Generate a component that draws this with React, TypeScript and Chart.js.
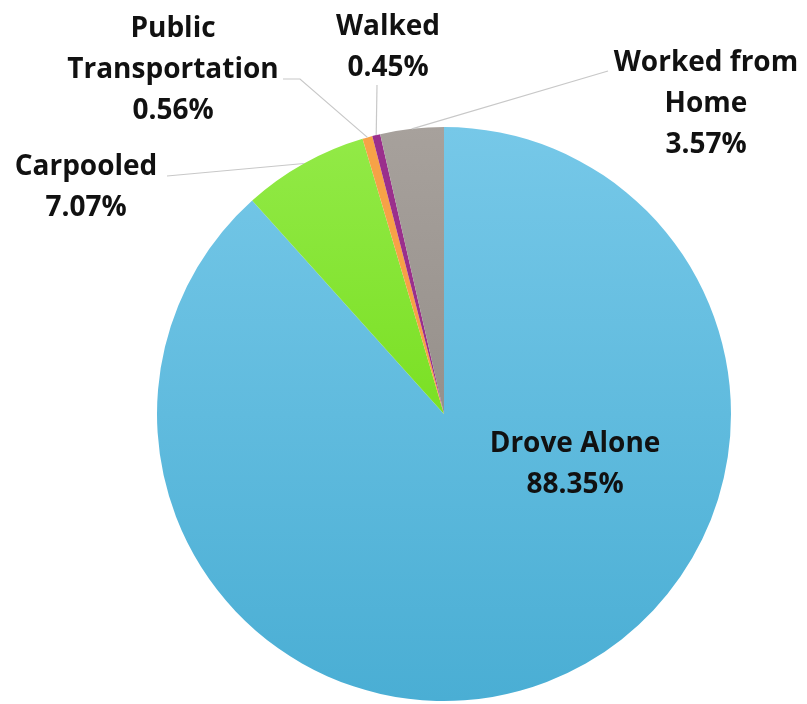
import React, { useEffect, useRef } from "react";
import { Chart, registerables } from "chart.js";

Chart.register(...registerables);

const categories: string[] = [
  "Drove Alone",
  "Carpooled",
  "Public Transportation",
  "Walked",
  "Worked from Home",
];
const shares: number[] = [88.35, 7.07, 0.56, 0.45, 3.57];
const labelLines: string[][] = [
  ["Drove Alone", "88.35%"],
  ["Carpooled", "7.07%"],
  ["Public", "Transportation", "0.56%"],
  ["Walked", "0.45%"],
  ["Worked from", "Home", "3.57%"],
];

// Label placement, relative to the pie centre (dx, dy of first baseline).
// lead: leader line start relative to the pie centre (null = inside label).
const labelLayout = [
  { dx: 131, dy: 38, lead: null as null | number[][] },
  { dx: -358, dy: -239, lead: [[-277, -238]] },
  { dx: -271, dy: -377, lead: [[-161, -335], [-144, -335]] },
  { dx: -56, dy: -379, lead: [[-67, -329]] },
  { dx: 262, dy: -343, lead: [[164, -343]] },
];

const FONT = "bold 28px 'Open Sans', sans-serif";
const LINE_H = 41;

const labelPlugin = {
  id: "pieLabels",
  afterDatasetsDraw(chart: any) {
    const ctx: CanvasRenderingContext2D = chart.ctx;
    const meta = chart.getDatasetMeta(0);
    ctx.save();
    meta.data.forEach((arc: any, i: number) => {
      const { x, y, outerRadius, startAngle, endAngle } = arc.getProps(
        ["x", "y", "outerRadius", "startAngle", "endAngle"],
        true
      );
      const lay = labelLayout[i];
      const mid = (startAngle + endAngle) / 2;
      if (lay.lead) {
        const ex = x + Math.cos(mid) * outerRadius;
        const ey = y + Math.sin(mid) * outerRadius;
        ctx.beginPath();
        ctx.strokeStyle = "#c8c8c8";
        ctx.lineWidth = 1.2;
        ctx.moveTo(x + lay.lead[0][0], y + lay.lead[0][1]);
        for (let k = 1; k < lay.lead.length; k++) {
          ctx.lineTo(x + lay.lead[k][0], y + lay.lead[k][1]);
        }
        ctx.lineTo(ex, ey);
        ctx.stroke();
      }
      ctx.font = FONT;
      ctx.fillStyle = "#111111";
      ctx.textAlign = "center";
      ctx.textBaseline = "alphabetic";
      labelLines[i].forEach((t, k) => {
        ctx.fillText(t, x + lay.dx, y + lay.dy + k * LINE_H);
      });
    });
    ctx.restore();
  },
};

function vGrad(chart: any, stops: string[], fallback: string) {
  const area = chart.chartArea;
  if (!area) return fallback;
  const g = chart.ctx.createLinearGradient(0, area.top, 0, area.bottom);
  g.addColorStop(0, stops[0]);
  g.addColorStop(1, stops[1]);
  return g;
}

export default function App() {
  const ref = useRef<HTMLCanvasElement | null>(null);
  useEffect(() => {
    if (!ref.current) return;
    const chart = new Chart(ref.current, {
      type: "pie",
      data: {
        labels: categories,
        datasets: [
          {
            data: shares,
            borderWidth: 0,
            backgroundColor: (c: any) => {
              const i = c.dataIndex;
              const ch = c.chart;
              if (i === 0) return vGrad(ch, ["#76c8e8", "#4aaed4"], "#5fbde0");
              if (i === 1) return vGrad(ch, ["#93ea48", "#62d600"], "#7ee21f");
              if (i === 2) return "#f7a247";
              if (i === 3) return "#9a2f8c";
              return vGrad(ch, ["#a7a19c", "#857f7a"], "#a09a95");
            },
          },
        ],
      },
      options: {
        responsive: true,
        maintainAspectRatio: false,
        animation: false,
        layout: { padding: { top: 127, bottom: 3, left: 157, right: 76 } },
        plugins: {
          legend: { display: false },
          tooltip: { enabled: false },
          title: { display: false },
        },
      },
      plugins: [labelPlugin],
    });
    return () => chart.destroy();
  }, []);
  return (
    <div
      style={{
        position: "absolute",
        left: 0,
        top: 0,
        width: 807,
        height: 704,
        background: "#ffffff",
      }}
    >
      <canvas ref={ref} />
    </div>
  );
}
